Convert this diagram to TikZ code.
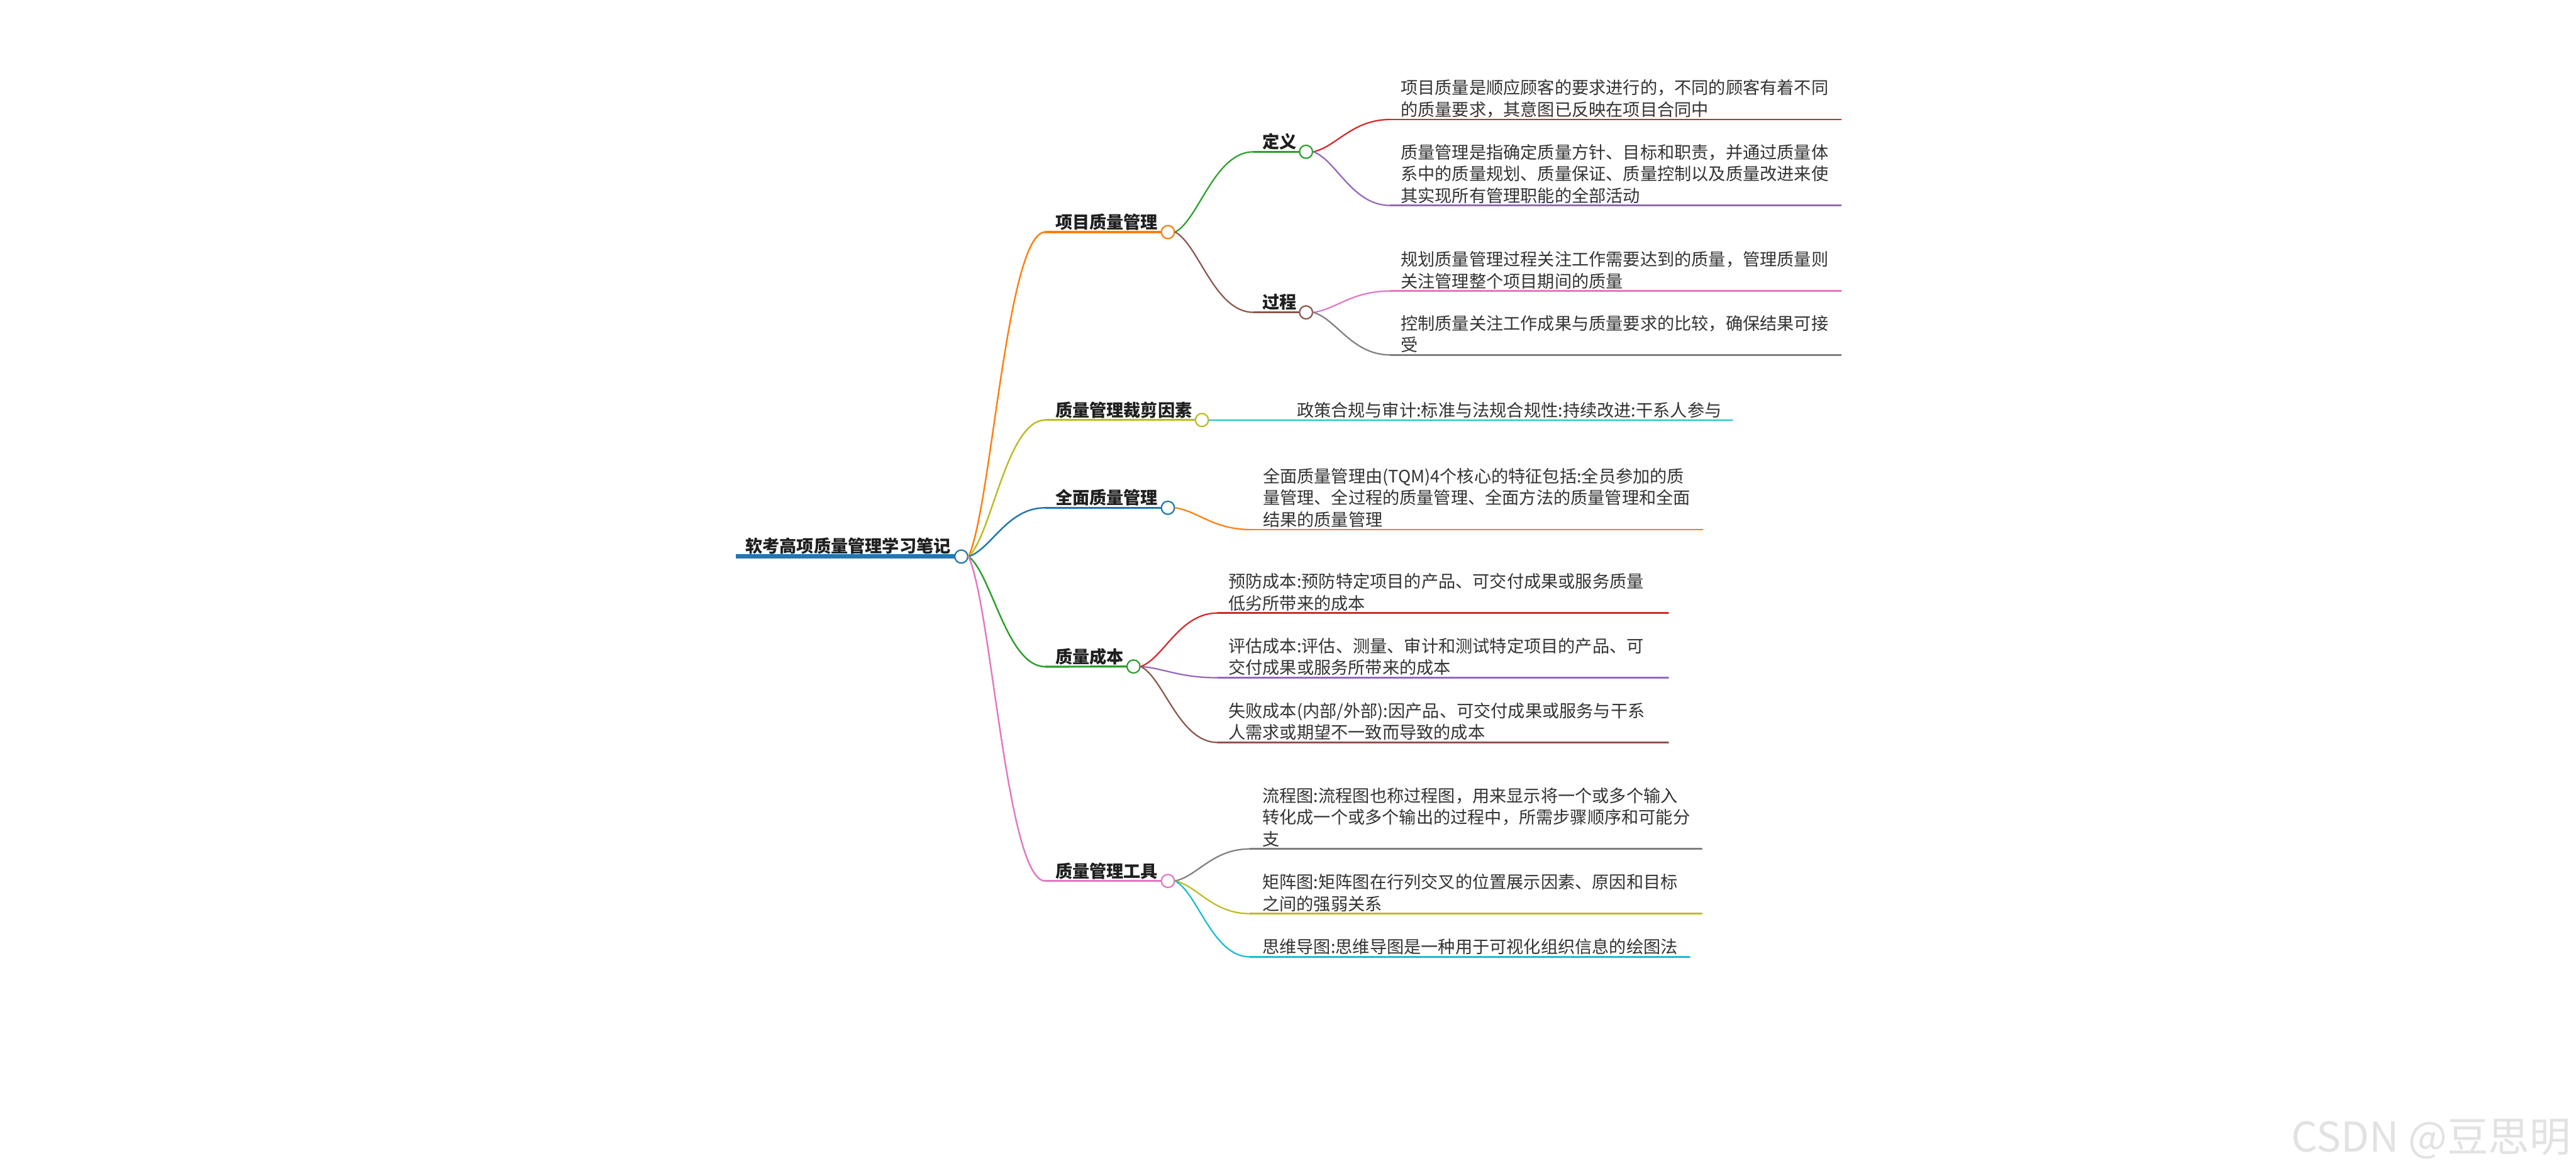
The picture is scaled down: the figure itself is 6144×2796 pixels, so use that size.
\documentclass[tikz,border=0pt]{standalone}
\usepackage{fontspec}
\setmainfont{Noto Sans CJK SC}
\usetikzlibrary{calc}
\definecolor{cblue}{HTML}{1F77B4}
\definecolor{corange}{HTML}{FF7F0E}
\definecolor{cgreen}{HTML}{2CA02C}
\definecolor{cred}{HTML}{D62728}
\definecolor{cpurple}{HTML}{9467BD}
\definecolor{cbrown}{HTML}{8C564B}
\definecolor{cpink}{HTML}{E377C2}
\definecolor{cgray}{HTML}{7F7F7F}
\definecolor{colive}{HTML}{BCBD22}
\definecolor{ccyan}{HTML}{17BECF}
\definecolor{leafgray}{HTML}{333333}
\definecolor{titleblack}{HTML}{1F1F1F}
\definecolor{wmark}{HTML}{E2E2E2}
\newcommand\mlines[1]{\vbox{\lineskiplimit=-100pt\lineskip=0pt #1}}
\tikzset{
  txt/.style={anchor=base west, inner sep=0pt, outer sep=0pt,
    font=\fontsize{11.6pt}{14.7pt}\selectfont, text=leafgray},
  ttl/.style={anchor=base west, inner sep=0pt, outer sep=0pt,
    font=\fontsize{11.6pt}{14.7pt}\selectfont\bfseries, text=titleblack},
  dot/.style={circle, draw=#1, fill=white, line width=0.95pt,
    minimum size=0.31cm, inner sep=0pt},
  branch/.style={draw=#1, line width=0.95pt, line cap=round,
    to path={let \p1=(\tikztostart), \p2=(\tikztotarget) in
      .. controls ({\x1+0.3*(\x2-\x1)},{\y1+0.15*(\y2-\y1)})
      and ({\x1+0.5*(\x2-\x1)},{\y2}) .. (\tikztotarget)}},
  rbranch/.style={branch=#1, line width=1.05pt},
  uline/.style={draw=#1, line width=1.1pt, line cap=round},
  tline/.style={draw=#1, line width=1.35pt, line cap=round},
}
\begin{document}
\begin{tikzpicture}[x=0.01cm, y=-0.01cm]
\path[use as bounding box, fill=white] (0,0) rectangle (6144,2796);

% ---------- root ----------
\coordinate (ru) at (1755,1327);
\draw[cblue, line width=2.85pt] (ru) -- (2280,1327);

% ---------- level 1 ----------
\coordinate (au) at (2493,553.5);
\coordinate (bu) at (2493,1001.7);
\coordinate (cu) at (2493,1211);
\coordinate (du) at (2493,1590);
\coordinate (eu) at (2493,2101);
\node[dot=cblue] (rc) at (2292.7,1327.3) {};
\node[ttl] (rt) at (1778,1317) {软考高项质量管理学习笔记};

\draw[rbranch=corange] (rc.east) to (au);
\draw[rbranch=colive] (rc.east) to (bu);
\draw[rbranch=cblue] (rc.east) to (cu);
\draw[rbranch=cgreen] (rc.east) to (du);
\draw[rbranch=cpink] (rc.east) to (eu);

\node[dot=corange] (a) at (2785.5,553.5) {};
\node[dot=colive] (b) at (2866.7,1001.7) {};
\node[dot=cblue] (c) at (2785.5,1211) {};
\node[dot=cgreen] (d) at (2703.5,1589.5) {};
\node[dot=cpink] (e) at (2785.5,2101) {};

\draw[tline=corange] (au) -- (a.west);
\draw[tline=colive] (bu) -- (b.west);
\draw[tline=cblue] (cu) -- (c.west);
\draw[tline=cgreen] (du) -- (d.west);
\draw[tline=cpink] (eu) -- (e.west);

\node[ttl] (at) at (2517,545) {项目质量管理};
\node[ttl] (bt) at (2517,993.2) {质量管理裁剪因素};
\node[ttl] (ct) at (2517,1202.5) {全面质量管理};
\node[ttl] (dt) at (2517,1581.5) {质量成本};
\node[ttl] (et) at (2517,2092.5) {质量管理工具};

% ---------- level 2 (项目质量管理) ----------
\coordinate (a1u) at (2990,362);
\coordinate (a2u) at (2990,745);
\draw[branch=cgreen] (a.east) to (a1u);
\draw[branch=cbrown] (a.east) to (a2u);
\node[dot=cgreen] (a1) at (3115,362) {};
\node[dot=cbrown] (a2) at (3115,745) {};
\draw[uline=cgreen] (a1u) -- (a1.west);
\draw[uline=cbrown] (a2u) -- (a2.west);
\node[ttl] (a1t) at (3011,353.5) {定义};
\node[ttl] (a2t) at (3011,736.3) {过程};

% ---------- leaves of 定义 / 过程 ----------
\coordinate (a11s) at (3316,285);   \coordinate (a11e) at (4391,285);
\coordinate (a12s) at (3316,490);   \coordinate (a12e) at (4391,490);
\coordinate (a21s) at (3316,694);   \coordinate (a21e) at (4391,694);
\coordinate (a22s) at (3316,846.5); \coordinate (a22e) at (4391,846.5);
\draw[branch=cred] (a1.east) to (a11s);
\draw[branch=cpurple] (a1.east) to (a12s);
\draw[branch=cpink] (a2.east) to (a21s);
\draw[branch=cgray] (a2.east) to (a22s);
\draw[uline=cred] (a11s) -- (a11e);
\draw[uline=cpurple] (a12s) -- (a12e);
\draw[uline=cpink] (a21s) -- (a21e);
\draw[uline=cgray] (a22s) -- (a22e);
\node[txt] (a11t) at (3341,276.5) {\mlines{\hbox{项目质量是顺应顾客的要求进行的，不同的顾客有着不同}\hbox{的质量要求，其意图已反映在项目合同中}}};
\node[txt] (a12t) at (3341,481.5) {\mlines{\hbox{质量管理是指确定质量方针、目标和职责，并通过质量体}\hbox{系中的质量规划、质量保证、质量控制以及质量改进来使}\hbox{其实现所有管理职能的全部活动}}};
\node[txt] (a21t) at (3341,685.5) {\mlines{\hbox{规划质量管理过程关注工作需要达到的质量，管理质量则}\hbox{关注管理整个项目期间的质量}}};
\node[txt] (a22t) at (3341,838) {\mlines{\hbox{控制质量关注工作成果与质量要求的比较，确保结果可接}\hbox{受}}};

% ---------- leaf of 质量管理裁剪因素 ----------
\coordinate (b1e) at (4132,1001.7);
\draw[uline=ccyan] (b.east) -- (b1e);
\node[txt] (b1t) at (3093,993.2) {政策合规与审计:标准与法规合规性:持续改进:干系人参与};

% ---------- leaf of 全面质量管理 ----------
\coordinate (c1s) at (2984,1263); \coordinate (c1e) at (4061,1263);
\draw[branch=corange] (c.east) to (c1s);
\draw[uline=corange] (c1s) -- (c1e);
\node[txt] (c1t) at (3012,1254.5) {\mlines{\hbox{全面质量管理由(TQM)4个核心的特征包括:全员参加的质}\hbox{量管理、全过程的质量管理、全面方法的质量管理和全面}\hbox{结果的质量管理}}};

% ---------- leaves of 质量成本 ----------
\coordinate (d1s) at (2904,1462);   \coordinate (d1e) at (3979,1462);
\coordinate (d2s) at (2904,1616.3); \coordinate (d2e) at (3979,1616.3);
\coordinate (d3s) at (2904,1770.7); \coordinate (d3e) at (3979,1770.7);
\draw[branch=cred] (d.east) to (d1s);
\draw[branch=cpurple] (d.east) to (d2s);
\draw[branch=cbrown] (d.east) to (d3s);
\draw[uline=cred] (d1s) -- (d1e);
\draw[uline=cpurple] (d2s) -- (d2e);
\draw[uline=cbrown] (d3s) -- (d3e);
\node[txt] (d1t) at (2930,1453.5) {\mlines{\hbox{预防成本:预防特定项目的产品、可交付成果或服务质量}\hbox{低劣所带来的成本}}};
\node[txt] (d2t) at (2930,1607.8) {\mlines{\hbox{评估成本:评估、测量、审计和测试特定项目的产品、可}\hbox{交付成果或服务所带来的成本}}};
\node[txt] (d3t) at (2930,1762.2) {\mlines{\hbox{失败成本(内部/外部):因产品、可交付成果或服务与干系}\hbox{人需求或期望不一致而导致的成本}}};

% ---------- leaves of 质量管理工具 ----------
\coordinate (e1s) at (2981,2024.6); \coordinate (e1e) at (4059,2024.6);
\coordinate (e2s) at (2981,2179);   \coordinate (e2e) at (4059,2179);
\coordinate (e3s) at (2981,2282);   \coordinate (e3e) at (4030,2282);
\draw[branch=cgray] (e.east) to (e1s);
\draw[branch=colive] (e.east) to (e2s);
\draw[branch=ccyan] (e.east) to (e3s);
\draw[uline=cgray] (e1s) -- (e1e);
\draw[uline=colive] (e2s) -- (e2e);
\draw[uline=ccyan] (e3s) -- (e3e);
\node[txt] (e1t) at (3011,2016.1) {\mlines{\hbox{流程图:流程图也称过程图，用来显示将一个或多个输入}\hbox{转化成一个或多个输出的过程中，所需步骤顺序和可能分}\hbox{支}}};
\node[txt] (e2t) at (3011,2170.5) {\mlines{\hbox{矩阵图:矩阵图在行列交叉的位置展示因素、原因和目标}\hbox{之间的强弱关系}}};
\node[txt] (e3t) at (3011,2273.5) {思维导图:思维导图是一种用于可视化组织信息的绘图法};

% ---------- watermark ----------
\node[anchor=base east, inner sep=0pt, text=wmark,
  font=\fontsize{27.9pt}{30pt}\selectfont] (wm) at (6132,2747) {CSDN @豆思明};
\end{tikzpicture}
\end{document}
